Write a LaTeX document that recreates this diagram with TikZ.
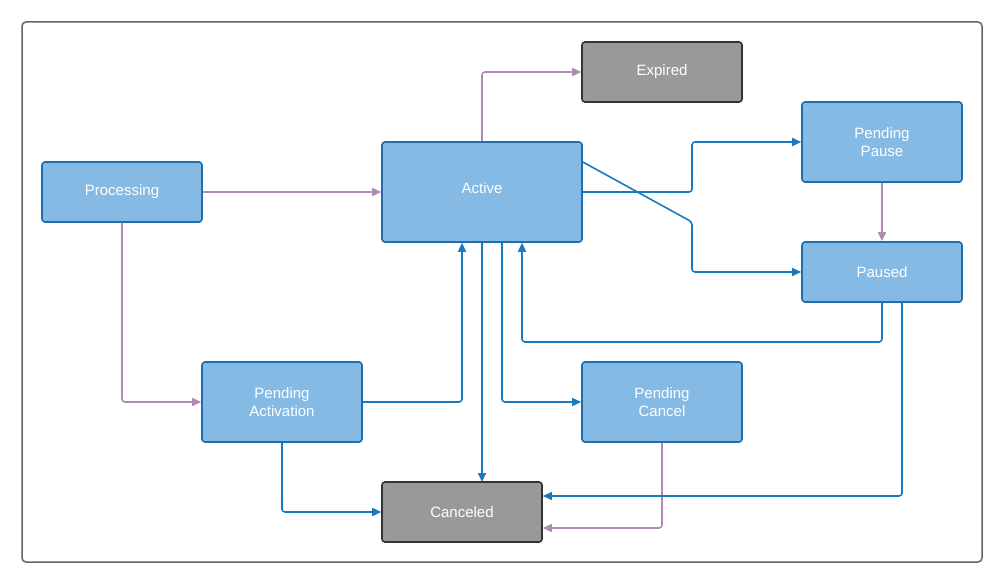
\documentclass[tikz,border=0pt]{standalone}
\usepackage{fontspec}
\setmainfont{Liberation Sans}
\usetikzlibrary{arrows.meta}
\definecolor{nfill}{HTML}{85BAE5}
\definecolor{nline}{HTML}{1F6FB0}
\definecolor{gfill}{HTML}{999999}
\definecolor{blu}{HTML}{1A7AC0}
\definecolor{pur}{HTML}{B08AB5}
\begin{document}
\begin{tikzpicture}[x=1pt,y=-1pt,
 st/.style={draw=nline,fill=nfill,line width=1.6pt,rounded corners=3pt,text=white,font=\fontsize{15}{18}\selectfont,align=center,inner sep=0pt},
 gs/.style={st,draw=black!80,fill=gfill},
 b/.style={draw=blu,line width=1.6pt,-{Triangle[length=9pt,width=8pt]},rounded corners=3pt},
 p/.style={draw=pur,line width=1.6pt,-{Triangle[length=9pt,width=8pt]},rounded corners=3pt}]
\useasboundingbox (0,0) rectangle (1003,583);
\draw[draw=black!60,line width=1.5pt,rounded corners=4pt] (22,22) rectangle (982,562);
\node[st,minimum width=160pt,minimum height=60pt] (proc) at (122,192) {Processing};
\node[st,minimum width=200pt,minimum height=100pt,text depth=0pt] (act) at (482,192) {};
\node[text=white,font=\fontsize{15}{18}\selectfont] (actl) at (482,188) {Active};
\node[gs,minimum width=160pt,minimum height=60pt] (exp) at (662,72) {Expired};
\node[st,minimum width=160pt,minimum height=80pt] (pp) at (882,142) {Pending\\Pause};
\node[st,minimum width=160pt,minimum height=60pt] (pau) at (882,272) {Paused};
\node[st,minimum width=160pt,minimum height=80pt] (pa) at (282,402) {Pending\\Activation};
\node[st,minimum width=160pt,minimum height=80pt] (pc) at (662,402) {Pending\\Cancel};
\node[gs,minimum width=160pt,minimum height=60pt] (can) at (462,512) {Canceled};
\coordinate (t1) at (500,192);
\draw[p] (proc.east) -- (act.west);
\draw[p] (proc.south) |- (pa.west);
\draw[p] (act.north) |- (exp.west);
\draw[b] (act.east) -- (692,192) |- (pp.west);
\draw[b] ([yshift=30pt]act.east) -- (692,222) |- (pau.west);
\draw[p] (pp.south) -- (pau.north);
\draw[b] (pau.south) -- (882,342) -| ([xshift=40pt]act.south);
\draw[b] (pa.east) -| ([xshift=-20pt]act.south);
\draw[b] (act.south) -- (482,482);
\draw[b] ([xshift=20pt]act.south) |- (pc.west);
\draw[b] (pa.south) |- (can.west);
\draw[p] (pc.south) |- ([yshift=-16pt]can.east);
\draw[b] ([xshift=20pt]pau.south) |- ([yshift=16pt]can.east);
\end{tikzpicture}
\end{document}
